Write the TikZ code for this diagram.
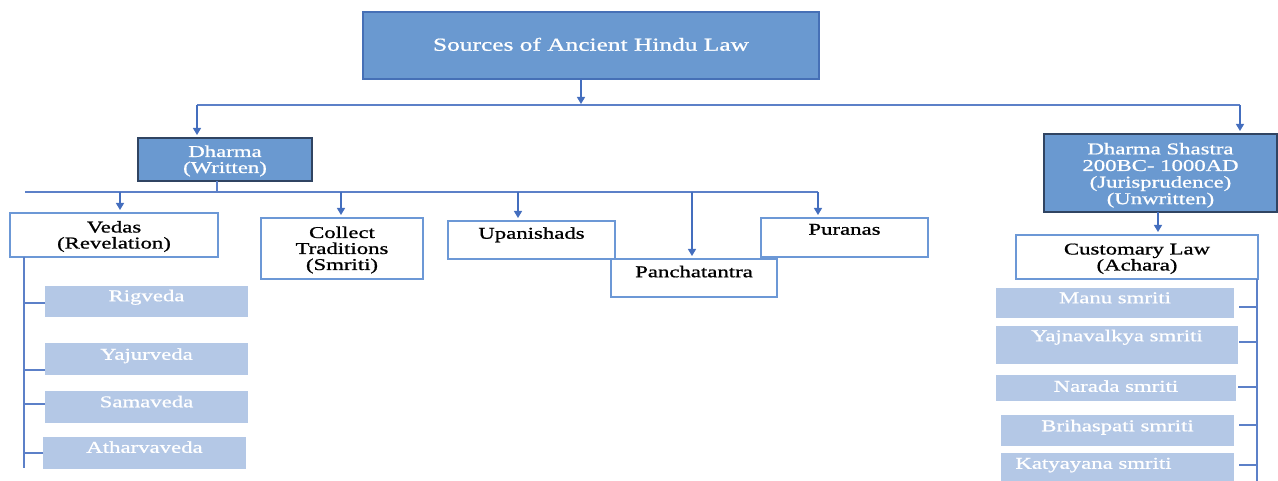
\documentclass[tikz,border=0pt]{standalone}
\usepackage{fontspec}
\setmainfont{Liberation Serif}[FakeStretch=1.38, FakeBold=0.9]
\usetikzlibrary{arrows.meta}
\definecolor{midblue}{RGB}{106,153,208}
\definecolor{topedge}{RGB}{70,112,182}
\definecolor{darkedge}{RGB}{48,68,98}
\definecolor{lightfill}{RGB}{180,200,230}
\definecolor{boxedge}{RGB}{108,152,214}
\definecolor{connblue}{RGB}{92,128,200}
\definecolor{arrblue}{RGB}{68,110,190}
\newcommand{\firstup}{\rule{0pt}{14.5pt}}
\tikzset{
  basebox/.style={inner sep=0pt, outer sep=0pt, align=center, font=\fontsize{16.5}{16}\selectfont},
  titlebox/.style={basebox, fill=midblue, draw=topedge, line width=1.6pt, text=white, font=\fontsize{18.4}{18}\selectfont},
  darkbox/.style={basebox, fill=midblue, draw=darkedge, line width=1.6pt, text=white},
  whitebox/.style={basebox, fill=white, draw=boxedge, line width=2.4pt, text=black},
  lightbox/.style={basebox, fill=lightfill, draw=none, text=white},
  conn/.style={draw=connblue, line width=1.2pt},
  arr/.style={conn, draw=arrblue, -{Triangle[width=8pt,length=7pt]}, shorten >=3pt},
  raised/.style={text height=11.5pt, text depth=#1},
}
\begin{document}
\begin{tikzpicture}[x=1pt,y=-1pt]
\useasboundingbox (0,0) rectangle (1278,481);
% boxes
\node[titlebox, minimum width=456pt, minimum height=67pt, raised=1pt] (top) at (591,45.5) {Sources of Ancient Hindu Law};
\node[darkbox, minimum width=174pt, minimum height=43pt] (dharma) at (225,159.5) {\firstup Dharma\\(Written)};
\node[darkbox, minimum width=233pt, minimum height=78pt, font=\fontsize{16.5}{16.6}\selectfont] (shastra) at (1160.5,173) {\rule{0pt}{16pt}Dharma Shastra\\200BC- 1000AD\\(Jurisprudence)\\(Unwritten)};
\node[whitebox, minimum width=208pt, minimum height=44pt] (vedas) at (114,235) {\firstup Vedas\\(Revelation)};
\node[whitebox, minimum width=162pt, minimum height=61pt] (collect) at (342,248.5) {\firstup Collect\\Traditions\\(Smriti)};
\node[whitebox, minimum width=167pt, minimum height=38pt, raised=14pt] (upan) at (531.5,240) {Upanishads};
\node[whitebox, minimum width=166pt, minimum height=38pt, raised=13pt] (panch) at (694,278) {Panchatantra};
\node[whitebox, minimum width=167pt, minimum height=39pt, raised=17pt] (puranas) at (844.5,237.5) {Puranas};
\node[whitebox, minimum width=242pt, minimum height=44pt] (custom) at (1137,257) {\firstup Customary Law\\(Achara)};
% vedas children
\node[lightbox, minimum width=203pt, minimum height=31pt, raised=12pt] (rig) at (146.5,301.5) {Rigveda};
\node[lightbox, minimum width=203pt, minimum height=32pt, raised=10pt] (yaj) at (146.5,359) {Yajurveda};
\node[lightbox, minimum width=203pt, minimum height=32pt, raised=11pt] (sama) at (146.5,407) {Samaveda};
\node[lightbox, minimum width=203pt, minimum height=32pt, raised=12pt] (athar) at (144.5,453) {Atharvaveda};
% smriti children
\node[lightbox, minimum width=238pt, minimum height=30pt, raised=11pt] (manu) at (1115,303) {Manu smriti};
\node[lightbox, minimum width=242pt, minimum height=38pt, raised=19pt] (yajn) at (1117,345) {Yajnavalkya smriti};
\node[lightbox, minimum width=240pt, minimum height=26pt, raised=4pt] (narada) at (1116,388) {Narada smriti};
\node[lightbox, minimum width=233pt, minimum height=31pt, raised=10pt] (briha) at (1117.5,430.5) {Brihaspati smriti};
\node[lightbox, minimum width=233pt, minimum height=31pt, raised=11pt] (katya) at (1117.5,468.5) {\hspace*{-48pt}Katyayana smriti};
% bus coordinates
\coordinate (b1) at (581,105);
\coordinate (b1L) at (197,105);
\coordinate (b1R) at (1240,105);
\coordinate (b2s) at (217,192);
\coordinate (b2L) at (25,192);
\coordinate (b2R) at (818,192);
\coordinate (vspine) at (24,468);
\coordinate (cspine) at (1257,481);
% top level
\draw[arr, shorten >=1pt] (top.south -| b1) -- (b1);
\draw[conn] (b1L) -- (b1R);
\draw[arr] (b1L) -- (b1L |- dharma.north);
\draw[arr] (b1R) -- (b1R |- shastra.north);
% dharma bus
\draw[conn] (dharma.south -| b2s) -- (b2s);
\draw[conn] (b2L) -- (b2R);
\draw[arr] (b2L -| 120,0) -- (vedas.north -| 120,0);
\draw[arr] (b2L -| 341,0) -- (collect.north -| 341,0);
\draw[arr] (b2L -| 518,0) -- (upan.north -| 518,0);
\draw[arr] (b2L -| 692,0) -- (panch.north -| 692,0);
\draw[arr] (b2R) -- (b2R |- puranas.north);
% shastra to customary
\draw[arr] (shastra.south -| 1158,0) -- (custom.north -| 1158,0);
% vedas spine
\draw[conn] (vedas.south -| vspine) -- (vspine);
\draw[conn] ([yshift=-1.5pt]rig.west) -- ([yshift=-1.5pt]rig.west -| vspine);
\draw[conn] ([yshift=-11pt]yaj.west) -- ([yshift=-11pt]yaj.west -| vspine);
\draw[conn] ([yshift=3pt]sama.west) -- ([yshift=3pt]sama.west -| vspine);
\draw[conn] (athar.west) -- (athar.west -| vspine);
% customary spine
\draw[conn] (custom.south -| cspine) -- (cspine);
\draw[conn] ([yshift=-4pt,xshift=5pt]manu.east) -- ([yshift=-4pt]manu.east -| cspine);
\draw[conn] ([yshift=3pt,xshift=1pt]yajn.east) -- ([yshift=3pt]yajn.east -| cspine);
\draw[conn] ([xshift=2pt,yshift=1pt]narada.east) -- ([yshift=1pt]narada.east -| cspine);
\draw[conn] ([xshift=5pt,yshift=5.5pt]briha.east) -- ([yshift=5.5pt]briha.east -| cspine);
\draw[conn] ([xshift=5pt,yshift=3.5pt]katya.east) -- ([yshift=3.5pt]katya.east -| cspine);
\end{tikzpicture}
\end{document}
